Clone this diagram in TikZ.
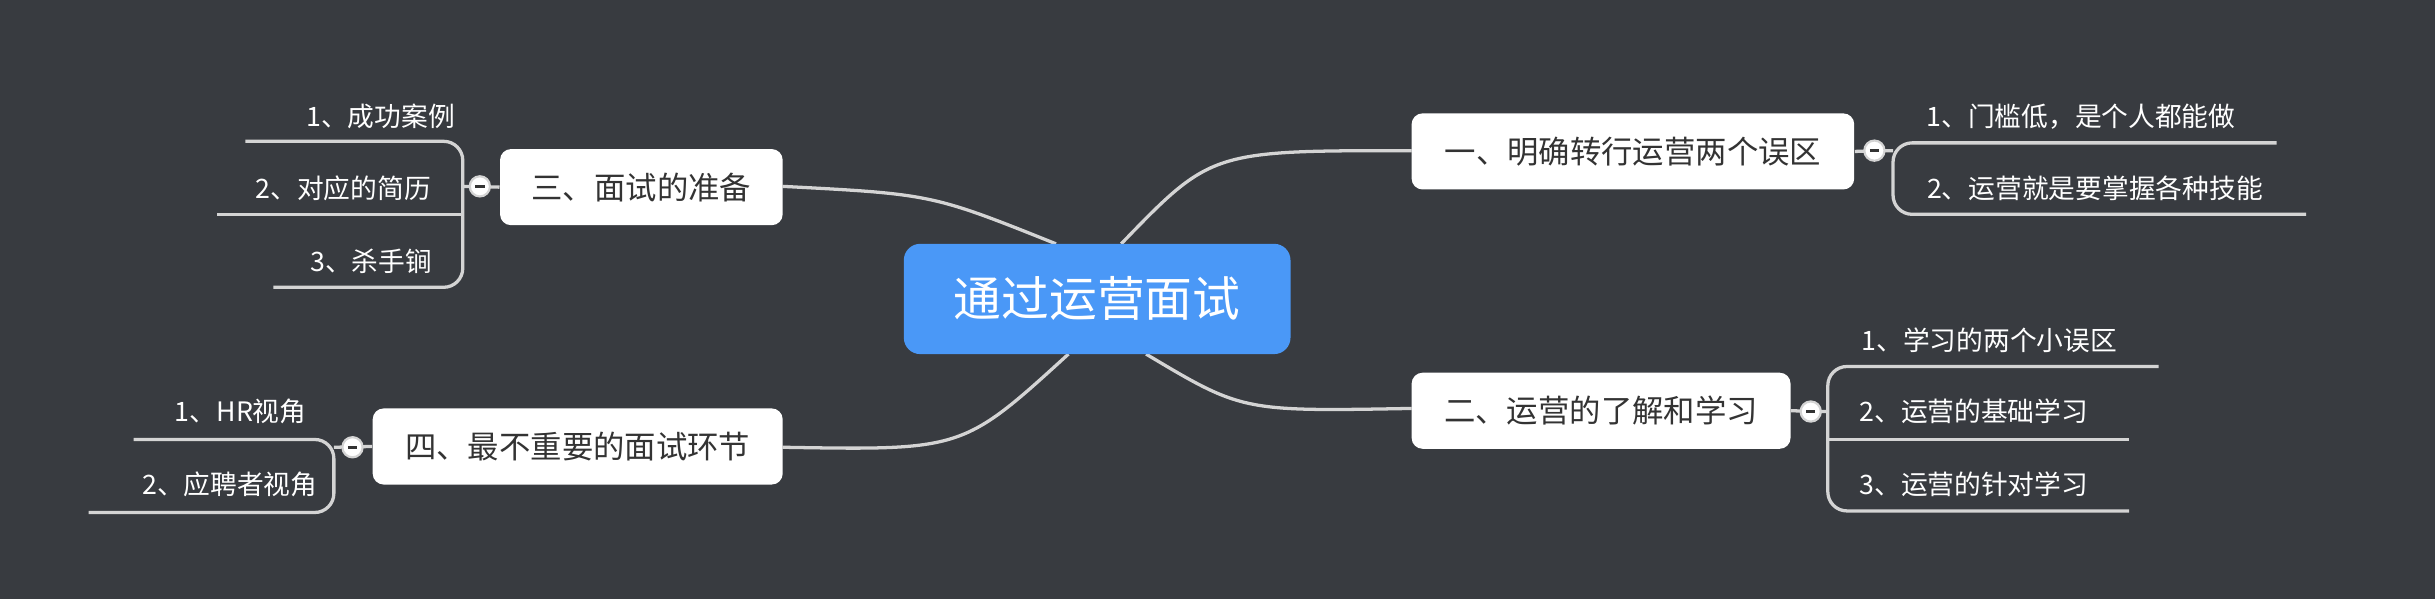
\documentclass[tikz,border=0pt]{standalone}
\usepackage{fontspec}
\setmainfont{Noto Sans CJK SC}
\definecolor{bg}{HTML}{383B40}
\definecolor{ln}{HTML}{D4D4D4}
\definecolor{cb}{HTML}{4A98F7}
\definecolor{tx}{HTML}{333333}
\begin{document}
\begin{tikzpicture}[x=0.02cm,y=-0.02cm,
  br/.style={draw=ln,line width=1.2pt},
  cen/.style={fill=cb,rounded corners=6pt,text=white,font=\fontsize{17.5}{20}\selectfont,minimum width=249*0.02cm,minimum height=71*0.02cm,inner sep=0pt},
  bn/.style={fill=white,rounded corners=4pt,text=tx,font=\fontsize{11.5}{14}\selectfont,minimum height=49*0.02cm,inner sep=0pt},
  lf/.style={text=white,font=\fontsize{9.8}{12}\selectfont,inner sep=0pt},
  tog/.style={circle,fill=white,draw=ln,line width=0.8pt,minimum size=13*0.02cm,inner sep=0pt,path picture={\draw[tx,line width=1pt](path picture bounding box.center)+(-3*0.02cm,0)--+(3*0.02cm,0);}}]
\fill[bg] (0,0) rectangle (1568,386);
\useasboundingbox (0,0) rectangle (1568,386);
% connectors
\coordinate (c1) at (680,157); \coordinate (c2) at (688,228);
\coordinate (c3) at (722,157); \coordinate (c4) at (738,228);
\coordinate (b3) at (504,120); \coordinate (b4) at (504,288);
\coordinate (b1) at (909,97); \coordinate (b2) at (909,263);
\draw[br] (c1) .. controls (600,125) .. (b3);
\draw[br] (c2) .. controls (620,290) .. (b4);
\draw[br] (c3) .. controls (780,97) .. (b1);
\draw[br] (c4) .. controls (800,265) .. (b2);
\node[cen] (root) at (706.5,192.5) {通过运营面试};
\node[bn,minimum width=182*0.02cm] (n3) at (413,120.5) {三、面试的准备};
\node[bn,minimum width=264*0.02cm] (n4) at (372,287.5) {四、最不重要的面试环节};
\node[bn,minimum width=285*0.02cm] (n1) at (1051.5,97.5) {一、明确转行运营两个误区};
\node[bn,minimum width=244*0.02cm] (n2) at (1031,264.5) {二、运营的了解和学习};
% leaves left 三
\node[lf] (l31) at (245,75) {1、成功案例};
\node[lf] (l32) at (221,121) {2、对应的简历};
\node[lf] (l33) at (239,168) {3、杀手锏};
\coordinate (a1) at (158,91); \coordinate (a2) at (140,138); \coordinate (a3) at (176,185);
\draw[br,rounded corners=7] (a1) -- (298,91) -- (298,185) -- (a3);
\draw[br] (a2) -- (298,138);
\draw[br] (298,120) -- (n3.west);
\node[tog] (t3) at (309,120) {};
% leaves 四
\node[lf] (l41) at (155,265) {1、HR视角};
\node[lf] (l42) at (148,312) {2、应聘者视角};
\coordinate (d1) at (86,283); \coordinate (d2) at (57,330);
\draw[br,rounded corners=7] (d1) -- (215,283) -- (215,330) -- (d2);
\draw[br] (215,288) -- (n4.west);
\node[tog] (t4) at (227,288) {};
% leaves 一
\node[lf] (l11) at (1340,75) {1、门槛低，是个人都能做};
\node[lf] (l12) at (1349,121) {2、运营就是要掌握各种技能};
\coordinate (e1) at (1466,92); \coordinate (e2) at (1485,138);
\draw[br,rounded corners=7] (e1) -- (1219,92) -- (1219,138) -- (e2);
\draw[br] (n1.east) -- (1219,97);
\node[tog] (t1) at (1207,97) {};
% leaves 二
\node[lf] (l21) at (1281,219) {1、学习的两个小误区};
\node[lf] (l22) at (1271,265) {2、运营的基础学习};
\node[lf] (l23) at (1271,312) {3、运营的针对学习};
\coordinate (f1) at (1390,236); \coordinate (f2) at (1371,283); \coordinate (f3) at (1371,329);
\draw[br,rounded corners=7] (f1) -- (1177,236) -- (1177,329) -- (f3);
\draw[br] (f2) -- (1177,283);
\draw[br] (n2.east) -- (1177,265);
\node[tog] (t2) at (1166,265) {};
\end{tikzpicture}
\end{document}
